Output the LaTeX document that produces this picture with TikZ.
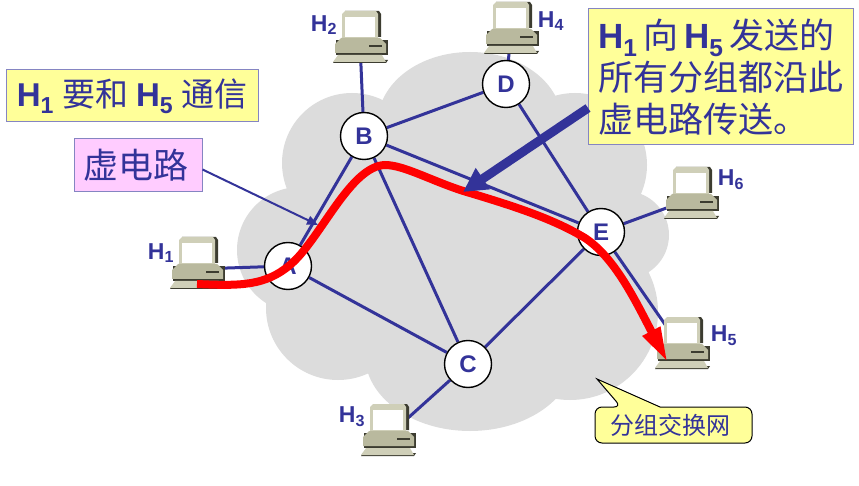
\documentclass[tikz,border=0pt]{standalone}
\usepackage{fontspec}
\setmainfont{Liberation Sans}
\newfontfamily\cjk{Noto Sans CJK SC}
\usetikzlibrary{arrows.meta,backgrounds}
\definecolor{darkblue}{HTML}{333399}
\definecolor{lightyellow}{HTML}{FFFF99}
\definecolor{lightpink}{HTML}{FFCCFF}
\definecolor{cloudgray}{HTML}{DCDCDC}
\definecolor{caseface}{HTML}{B9B99E}
\definecolor{caselight}{HTML}{CFCFB8}
\definecolor{casedark}{HTML}{3C3C30}
\newcommand{\hname}[1]{\textbf{H\textsubscript{#1}}}
\tikzset{
  switch/.style={circle,draw=black,fill=white,line width=1.4pt,minimum size=47pt,inner sep=0pt,
    text=darkblue,font=\fontsize{24}{24}\selectfont\bfseries},
  link/.style={draw=darkblue,line width=3pt},
  hostname/.style={text=darkblue,inner sep=0pt,font=\fontsize{23}{23}\selectfont},
  note/.style={draw=darkblue!60,fill=lightyellow,line width=1pt,inner sep=0pt,text=darkblue},
  computer/.pic={
    \fill[casedark] (-15,-26) -- (19,-26) -- (21,-23) -- (21,0) -- (-15,0) -- cycle;
    \fill[caselight] (-18,-23) -- (-15,-26) -- (16,-26) -- (18,-23) -- (18,1) -- (-18,1) -- cycle;
    \fill[white] (-15,-20) rectangle (15,0);
    \fill[casedark] (-24,3) rectangle (28,18);
    \fill[caseface] (-25,7) -- (-19,1) -- (20,1) -- (26,7) -- (26,16) -- (-25,16) -- cycle;
    \fill[casedark] (9,8) rectangle (22,10);
    \fill[casedark] (-27,26) -- (26,26) -- (28,23) -- (-25,23) -- cycle;
    \fill[caselight] (-27,25) -- (-22,18) -- (22,18) -- (26,25) -- cycle;
    \coordinate (-c) at (0,6);
  }
}
\begin{document}
\begin{tikzpicture}[x=1pt,y=-1pt]
\useasboundingbox (0,0) rectangle (859,486);
\pic (h1) at (197,263) {computer};
\pic (h2) at (360,37) {computer};
\pic (h3) at (388,430) {computer};
\pic (h4) at (511,28) {computer};
\pic (h5) at (682,343) {computer};
\pic (h6) at (691,193) {computer};
\node[switch] (A) at (288,266) {A};
\node[switch] (B) at (364,136) {B};
\node[switch] (C) at (468,364) {C};
\node[switch] (D) at (506,84) {D};
\node[switch] (E) at (601,232) {E};
\begin{scope}[on background layer]
% cloud
\fill[cloudgray] (352,163) circle (70) (470,122) ellipse (92 and 70) (575,165) circle (72)
  (625,235) circle (44) (570,312) circle (88) (470,355) ellipse (105 and 76)
  (338,308) circle (72) (300,250) circle (63) (440,250) circle (130);
\draw[link] (A) -- (B);
\draw[link] (A) -- (C);
\draw[link] (B) -- (C);
\draw[link] (B) -- (D);
\draw[link] (B) -- (E);
\draw[link] (C) -- (E);
\draw[link] (D) -- (E);
\draw[link] (E) -- (h5-c);
\draw[link] (E) -- (h6-c);
\draw[link] (A) -- (h1-c);
\draw[link] (B) -- (h2-c);
\draw[link] (C) -- (h3-c);
\draw[link] (D) -- (h4-c);
\end{scope}
\node[hostname] (h1name) at (161,253) {\hname{1}};
\node[hostname] (h2name) at (324,25) {\hname{2}};
\node[hostname] (h3name) at (352,417) {\hname{3}};
\node[hostname] (h4name) at (551,21) {\hname{4}};
\node[hostname] (h5name) at (724,336) {\hname{5}};
\node[hostname] (h6name) at (731,180) {\hname{6}};
% virtual circuit
\draw[red,line width=8pt,-{Triangle[length=36pt,width=18pt]}] (197,284)
  .. controls (240,286) and (265,286) .. (290,265)
  .. controls (320,240) and (350,166) .. (385,165)
  .. controls (405,165) and (435,183) .. (470,193)
  .. controls (520,208) and (555,220) .. (585,238)
  .. controls (615,258) and (635,300) .. (668,363);
\node[note,minimum width=252pt,minimum height=52pt,font=\fontsize{33}{33}\selectfont] (goal) at (132,96)
  {\hname{1}\hspace{8pt}{\cjk 要和}\hspace{8pt}\hname{5}\hspace{8pt}{\cjk 通信}};
\node[note,fill=lightpink,minimum width=128pt,minimum height=53pt,font=\fontsize{35}{35}\selectfont\cjk] (vc) at (138,165.5)
  {虚电路\hspace*{4pt}};
\node[note,minimum width=265pt,minimum height=136pt,align=left,font=\fontsize{35}{42}\selectfont] (send) at (720.5,77)
  {\hname{1}\,{\cjk 向}\,\hname{5}\,{\cjk 发送的}\\
   {\cjk 所有分组都沿此}\\
   {\cjk 虚电路传送。}};
\coordinate (vctip) at (318,225);
\coordinate (sendfrom) at (588,108);
\coordinate (sendtip) at (463,192);
\draw[darkblue,line width=2pt,-{Triangle[length=11pt,width=9pt]}] (vc.east) ++(0,4) -- (vctip);
\draw[darkblue,line width=9pt,-{Triangle[length=24pt,width=24pt]}] (sendfrom) -- (sendtip);
% callout
\draw[black,fill=lightyellow,line width=1pt,rounded corners=7pt] (595,425) -- (595,407)
  -- (621,407) [sharp corners] -- (597,379) -- (660,407) [rounded corners=7pt] -- (752,407) -- (752,443) -- (595,443) -- cycle;
\node[text=darkblue,inner sep=0pt,font=\fontsize{24}{24}\selectfont\cjk] (net) at (670,425) {分组交换网};
\end{tikzpicture}
\end{document}
